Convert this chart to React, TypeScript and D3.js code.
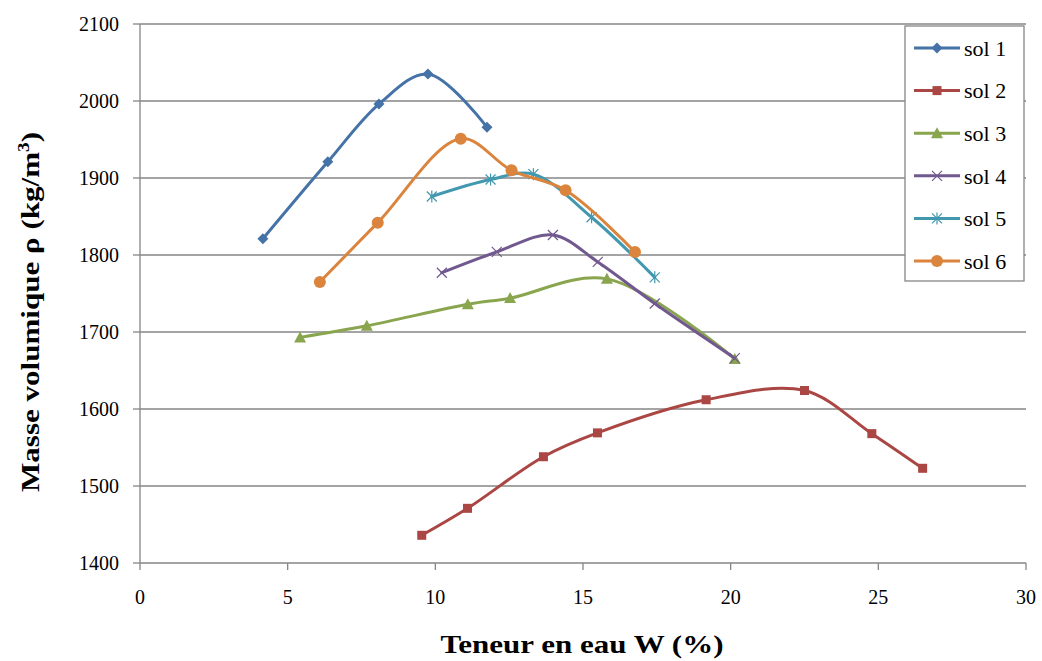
import React from "react";
import * as d3 from "d3";

const seriesNames = ["sol 1", "sol 2", "sol 3", "sol 4", "sol 5", "sol 6"];
const seriesColors = ["#4572A7", "#AA4643", "#89A54E", "#71588F", "#4198AF", "#DB843D"];
const seriesMarkers = ["diamond", "square", "triangle", "x", "star", "circle"];

const sol1W = [4.16, 6.36, 8.09, 9.75, 11.75];
const sol1R = [1821, 1921, 1996, 2035, 1966];
const sol2W = [9.54, 11.09, 13.66, 15.49, 19.17, 22.5, 24.78, 26.5];
const sol2R = [1436, 1471, 1538, 1569, 1612, 1624, 1568, 1523];
const sol3W = [5.42, 7.68, 11.1, 12.53, 15.81, 20.14];
const sol3R = [1693, 1708, 1736, 1744, 1769, 1665];
const sol4W = [10.22, 12.08, 13.98, 15.5, 17.43, 20.14];
const sol4R = [1777, 1804, 1826, 1791, 1737, 1666];
const sol5W = [9.88, 11.87, 13.32, 15.29, 17.43];
const sol5R = [1876, 1898, 1905, 1849, 1771];
const sol6W = [6.09, 8.05, 10.86, 12.58, 14.41, 16.76];
const sol6R = [1765, 1842, 1951, 1910, 1884, 1804];

const allW = [sol1W, sol2W, sol3W, sol4W, sol5W, sol6W];
const allR = [sol1R, sol2R, sol3R, sol4R, sol5R, sol6R];

const xTicks = [0, 5, 10, 15, 20, 25, 30];
const yTicks = [1400, 1500, 1600, 1700, 1800, 1900, 2000, 2100];

const FONT = '"Liberation Serif", "DejaVu Serif", serif';
const GRID = "#868686";

function Marker({ type, cx, cy, color }: { type: string; cx: number; cy: number; color: string }) {
  switch (type) {
    case "diamond":
      return <path d={`M${cx},${cy - 5.5}L${cx + 5.5},${cy}L${cx},${cy + 5.5}L${cx - 5.5},${cy}Z`} fill={color} />;
    case "square":
      return <rect x={cx - 4.5} y={cy - 4.5} width={9} height={9} fill={color} />;
    case "triangle":
      return <path d={`M${cx},${cy - 6}L${cx + 6},${cy + 5}L${cx - 6},${cy + 5}Z`} fill={color} />;
    case "x":
      return (
        <path d={`M${cx - 5},${cy - 5}L${cx + 5},${cy + 5}M${cx - 5},${cy + 5}L${cx + 5},${cy - 5}`} stroke={color} strokeWidth={1.2} fill="none" />
      );
    case "star":
      return (
        <path
          d={`M${cx - 5},${cy - 5}L${cx + 5},${cy + 5}M${cx - 5},${cy + 5}L${cx + 5},${cy - 5}M${cx},${cy - 6}L${cx},${cy + 6}`}
          stroke={color}
          strokeWidth={1.2}
          fill="none"
        />
      );
    default:
      return <circle cx={cx} cy={cy} r={6} fill={color} />;
  }
}

export default function App() {
  const x = d3.scaleLinear().domain([0, 30]).range([140, 1026]);
  const y = d3.scaleLinear().domain([1400, 2100]).range([563, 24]);

  const line = d3
    .line<[number, number]>()
    .x((d) => x(d[0]))
    .y((d) => y(d[1]))
    .curve(d3.curveCatmullRom.alpha(0.5));

  const legendX = 905;
  const legendY = 26;

  return (
    <svg width={1042} height={661} style={{ position: "absolute", left: 0, top: 0, background: "#fff", fontFamily: FONT }}>
      {/* gridlines */}
      {yTicks.slice(1).map((t) => (
        <line key={t} x1={x(0)} x2={x(30)} y1={y(t)} y2={y(t)} stroke={GRID} strokeWidth={1.3} />
      ))}
      {/* y axis */}
      <line x1={x(0)} x2={x(0)} y1={y(2100)} y2={y(1400)} stroke={GRID} strokeWidth={1.3} />
      {yTicks.map((t) => (
        <g key={t}>
          <line x1={x(0) - 7} x2={x(0)} y1={y(t)} y2={y(t)} stroke={GRID} strokeWidth={1.3} />
          <text x={119} y={y(t)} dy="0.35em" textAnchor="end" fontSize={20} fill="#000" style={{ fontFamily: FONT }}>
            {t}
          </text>
        </g>
      ))}
      {/* x axis */}
      <line x1={x(0)} x2={x(30)} y1={y(1400)} y2={y(1400)} stroke={GRID} strokeWidth={1.3} />
      {xTicks.map((t) => (
        <g key={t}>
          <line x1={x(t)} x2={x(t)} y1={y(1400)} y2={y(1400) + 7} stroke={GRID} strokeWidth={1.3} />
          <text x={x(t)} y={604} textAnchor="middle" fontSize={20} fill="#000" style={{ fontFamily: FONT }}>
            {t}
          </text>
        </g>
      ))}

      {/* series */}
      {allW.map((ws, i) => {
        const pts: [number, number][] = ws.map((w, j) => [w, allR[i][j]]);
        return (
          <g key={i}>
            <path d={line(pts) || ""} fill="none" stroke={seriesColors[i]} strokeWidth={3} strokeLinejoin="round" strokeLinecap="round" />
            {pts.map((p, j) => (
              <Marker key={j} type={seriesMarkers[i]} cx={x(p[0])} cy={y(p[1])} color={seriesColors[i]} />
            ))}
          </g>
        );
      })}

      {/* axis titles */}
      <text
        x={582}
        y={653}
        textAnchor="middle"
        fontSize={25}
        fontWeight="bold"
        fill="#000"
        textLength={283}
        lengthAdjust="spacingAndGlyphs"
        style={{ fontFamily: FONT }}
      >
        Teneur en eau W (%)
      </text>
      <text
        transform="translate(39,312) rotate(-90)"
        textAnchor="middle"
        fontSize={26}
        fontWeight="bold"
        fill="#000"
        textLength={360}
        lengthAdjust="spacingAndGlyphs"
        style={{ fontFamily: FONT }}
      >
        Masse volumique ρ (kg/m
        <tspan dy={-10} fontSize={16}>3</tspan>
        <tspan dy={10}>)</tspan>
      </text>

      {/* legend */}
      <rect x={legendX} y={legendY} width={119} height={255} fill="#fff" stroke={GRID} strokeWidth={1.3} />
      {seriesNames.map((n, i) => {
        const cy = legendY + 22 + i * 42.6;
        return (
          <g key={n}>
            <line x1={914} x2={960} y1={cy} y2={cy} stroke={seriesColors[i]} strokeWidth={3} />
            <Marker type={seriesMarkers[i]} cx={937} cy={cy} color={seriesColors[i]} />
            <text x={964} y={cy} dy="0.35em" fontSize={22} fill="#000" style={{ fontFamily: FONT }}>
              {n}
            </text>
          </g>
        );
      })}
    </svg>
  );
}
